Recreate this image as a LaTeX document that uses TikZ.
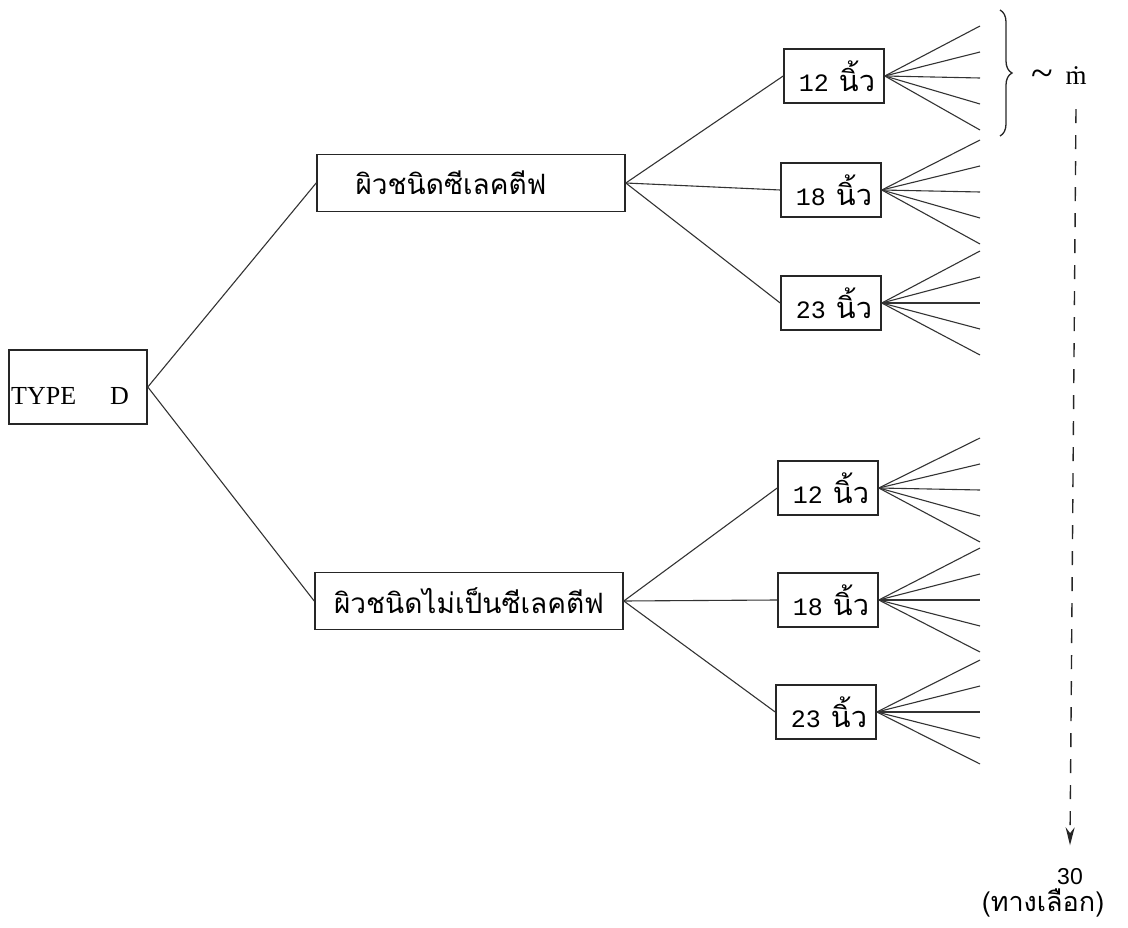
\documentclass[tikz,border=0pt]{standalone}
\usepackage{fontspec}
\setmainfont{Liberation Serif}
\newfontfamily\thaif[Script=Thai]{Loma}
\newfontfamily\monof{Liberation Mono}
\newfontfamily\sansf{Liberation Sans}
\usetikzlibrary{decorations.pathreplacing,arrows.meta}
\tikzset{
  box/.style={draw=black!85, line width=1.6pt, rectangle, inner sep=0pt},
  midbox/.style={box, minimum width=308pt, minimum height=57pt, font=\thaif\fontsize{28}{30}\selectfont},
  sizebox/.style={box, minimum width=100pt, minimum height=54pt, font=\fontsize{25}{28}\selectfont},
  link/.style={draw=black!80, line width=1.1pt},
  fan/.style={draw=black!80, line width=1.1pt},
  sym/.style={inner sep=0pt},
}
\newcommand{\inch}[1]{\hspace*{6pt}{\monof #1}\hspace{10pt}{\thaif\fontsize{29}{30}\selectfont นิ้ว}}
\newcommand{\fanout}[2]{%
  \foreach \d [count=\i] in {-52,-26,0,26,52}{
    \coordinate (#1e\i) at (980,#2+\d);
    \draw[fan] (#1.east) -- (#1e\i);
  }}
\begin{document}
\begin{tikzpicture}[x=1pt,y=-1pt]
\useasboundingbox (0,0) rectangle (1128,928);
% root
\node[box, minimum width=138pt, minimum height=74pt] (td) at (78,387) {};
\node[anchor=base west, inner sep=0pt, font=\fontsize{26}{28}\selectfont] (tdl) at (11,404) {TYPE\hspace{34pt}D};
% middle
\node[midbox] (sel) at (471,183) {\hspace*{-40pt}ผิวชนิดซีเลคตีฟ};
\node[midbox] (non) at (469,601) {ผิวชนิดไม่เป็นซีเลคตีฟ};
% sizes
\node[sizebox] (a12) at (834,76)  {\inch{12}};
\node[sizebox] (a18) at (831,190) {\inch{18}};
\node[sizebox] (a23) at (831,303) {\inch{23}};
\node[sizebox] (b12) at (828,488) {\inch{12}};
\node[sizebox] (b18) at (828,600) {\inch{18}};
\node[sizebox] (b23) at (826,712) {\inch{23}};
% links
\draw[link] (td.east) -- (sel.west);
\draw[link] (td.east) -- (non.west);
\foreach \t in {a12,a18,a23}{\draw[link] (sel.east) -- (\t.west);}
\foreach \t in {b12,b18,b23}{\draw[link] (non.east) -- (\t.west);}
% fans
\fanout{a12}{78}
\fanout{a18}{192}
\fanout{a23}{303}
\fanout{b12}{490}
\fanout{b18}{600}
\fanout{b23}{712}
% brace
\coordinate (bt) at (1000,10);
\coordinate (bb) at (1000,136);
\draw[black!85, line width=1.3pt, decorate, decoration={brace, amplitude=12pt}] (bt) -- (bb);
\node[sym, font=\fontsize{40}{40}\selectfont] (tl) at (1042,78) {\textasciitilde};
\node[sym, font=\fontsize{27}{28}\selectfont] (m) at (1076,76) {ṁ};
% result
\node[font=\sansf\fontsize{23}{24}\selectfont] (n30) at (1070,877) {30};
\node[font=\thaif\fontsize{27}{28}\selectfont] (alt) at (1043,903) {(ทางเลือก)};
\draw[black!85, line width=1.4pt, dash pattern=on 14pt off 12pt, -{Stealth[length=18pt,width=9pt]}]
  ([yshift=-24pt]m.south) -- ([yshift=20pt]n30.north);
\end{tikzpicture}
\end{document}
